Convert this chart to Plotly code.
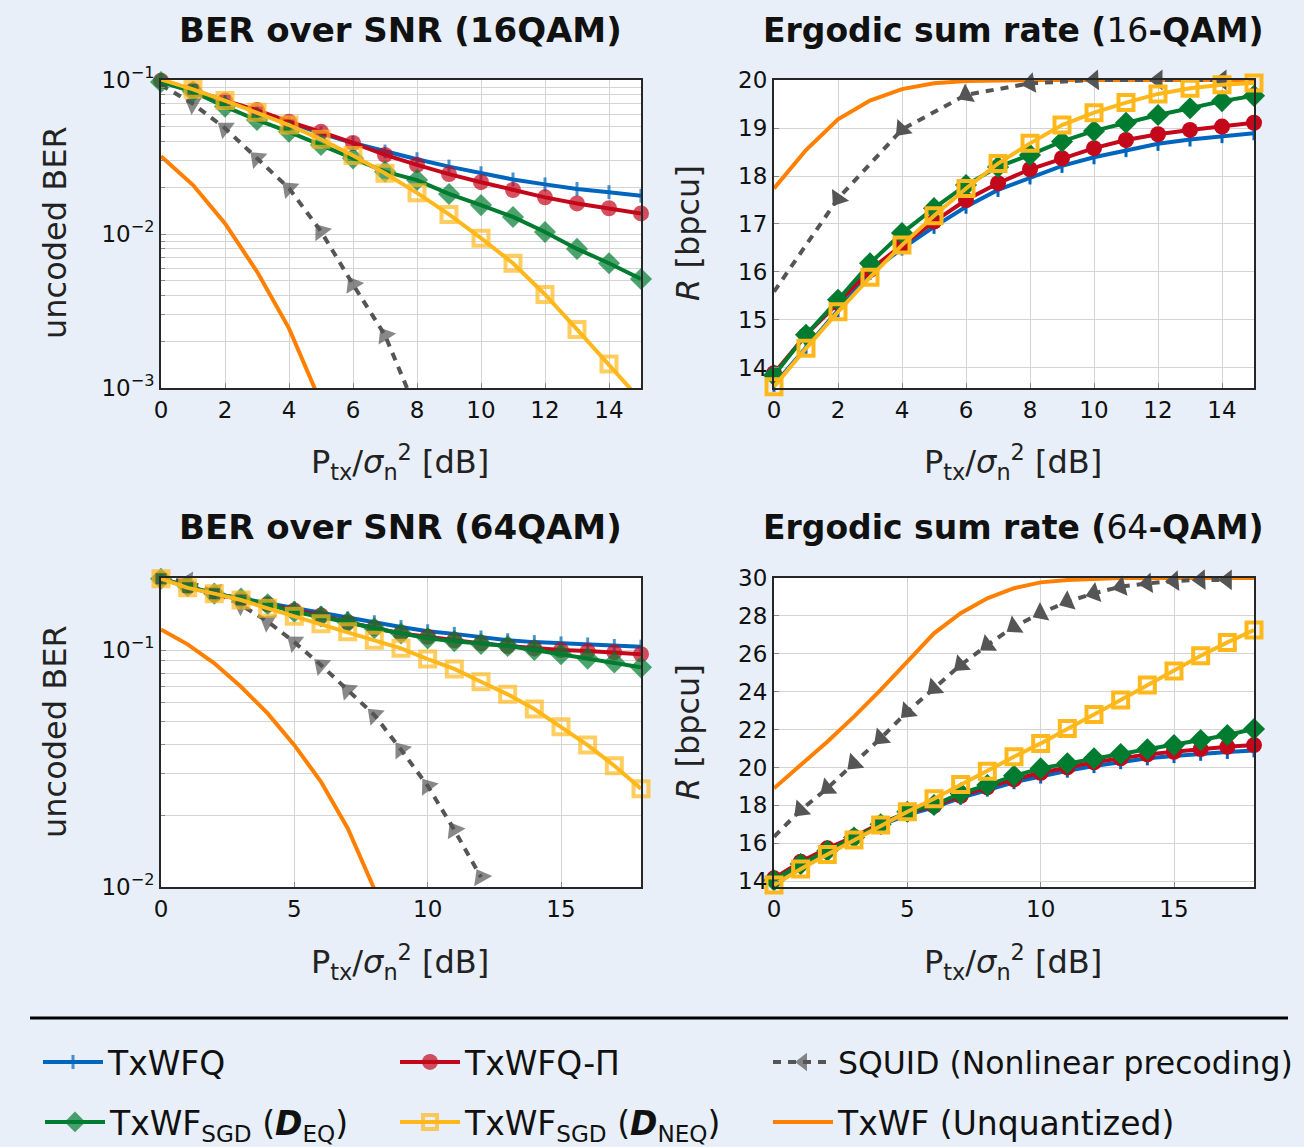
import plotly.graph_objects as go

# ---------------- data ----------------
snr16 = list(range(16))
snr16_squid_rate = list(range(0, 16, 2))
snr16_squid_ber = list(range(9))
snr16_txwf_ber = list(range(6))
snr64 = list(range(19))
snr64_squid_ber = list(range(13))
snr64_squid_rate = list(range(18))
snr64_txwf_ber = list(range(9))

ber16_txwfq = [0.099, 0.086, 0.0735, 0.0625, 0.0525, 0.045, 0.039, 0.0343, 0.0306, 0.0274, 0.0248, 0.0226, 0.0210, 0.0196, 0.0187, 0.0177]
ber16_txwfq_pi = [0.099, 0.086, 0.0735, 0.0638, 0.0536, 0.0461, 0.039, 0.0326, 0.0281, 0.0245, 0.0217, 0.0193, 0.0173, 0.0158, 0.0147, 0.0136]
ber16_sgd_eq = [0.097, 0.084, 0.0672, 0.055, 0.0461, 0.0379, 0.031, 0.0254, 0.0224, 0.0182, 0.0154, 0.0129, 0.0103, 0.0080, 0.00646, 0.0051]
ber16_sgd_neq = [0.101, 0.087, 0.0735, 0.0617, 0.051, 0.0412, 0.0323, 0.0248, 0.0185, 0.0134, 0.0094, 0.00646, 0.00405, 0.0024, 0.00143, 0.00083]
ber16_squid = [0.093, 0.070, 0.0486, 0.031, 0.0198, 0.0104, 0.0047, 0.0022, 0.0007]
ber16_txwf = [0.032, 0.0208, 0.0117, 0.0057, 0.00244, 0.0008]

rate16_txwfq = [13.65, 14.44, 15.2, 15.98, 16.49, 16.94, 17.36, 17.71, 17.97, 18.21, 18.39, 18.54, 18.67, 18.76, 18.83, 18.89]
rate16_txwfq_pi = [13.89, 14.69, 15.35, 16.04, 16.56, 17.05, 17.5, 17.85, 18.14, 18.37, 18.58, 18.75, 18.87, 18.96, 19.03, 19.11]
rate16_sgd_eq = [13.85, 14.69, 15.42, 16.18, 16.81, 17.33, 17.81, 18.19, 18.44, 18.72, 18.94, 19.11, 19.27, 19.41, 19.56, 19.67]
rate16_sgd_neq = [13.61, 14.41, 15.17, 15.89, 16.56, 17.17, 17.74, 18.26, 18.68, 19.06, 19.32, 19.53, 19.71, 19.83, 19.9, 19.94]
rate16_squid = [15.59, 17.53, 18.97, 19.69, 19.93, 20.0, 20.0, 20.0]
rate16_txwf = [17.74, 18.54, 19.18, 19.57, 19.81, 19.93, 19.98, 20.0, 20.0, 20.0, 20.0, 20.0, 20.0, 20.0, 20.0, 20.0]

ber64_txwfq = [0.201, 0.185, 0.173, 0.165, 0.157, 0.150, 0.143, 0.136, 0.131, 0.125, 0.120, 0.117, 0.113, 0.110, 0.108, 0.1067, 0.1056, 0.104, 0.1033]
ber64_txwfq_pi = [0.2, 0.185, 0.172, 0.164, 0.156, 0.147, 0.140, 0.131, 0.124, 0.1175, 0.1138, 0.110, 0.1067, 0.104, 0.1016, 0.1, 0.099, 0.0978, 0.096]
ber64_sgd_eq = [0.2, 0.186, 0.173, 0.165, 0.156, 0.145, 0.1385, 0.131, 0.1236, 0.1175, 0.112, 0.109, 0.106, 0.104, 0.1, 0.096, 0.092, 0.0887, 0.0845]
ber64_sgd_neq = [0.2, 0.183, 0.173, 0.1626, 0.15, 0.139, 0.129, 0.1195, 0.110, 0.1017, 0.0916, 0.0832, 0.0735, 0.065, 0.0564, 0.0475, 0.0397, 0.0325, 0.026]
ber64_squid = [0.2, 0.195, 0.176, 0.155, 0.132, 0.108, 0.0864, 0.0678, 0.0532, 0.0380, 0.0267, 0.0174, 0.011]
ber64_txwf = [0.122, 0.1057, 0.0879, 0.070, 0.054, 0.0397, 0.0278, 0.0177, 0.0098]

rate64_txwfq = [14.0, 14.85, 15.55, 16.25, 16.95, 17.5, 17.9, 18.4, 18.83, 19.22, 19.52, 19.83, 20.07, 20.28, 20.48, 20.6, 20.72, 20.82, 20.9]
rate64_txwfq_pi = [14.15, 15.02, 15.73, 16.34, 17.05, 17.6, 17.98, 18.5, 18.95, 19.37, 19.72, 20.0, 20.27, 20.48, 20.69, 20.83, 20.97, 21.09, 21.18]
rate64_sgd_eq = [14.05, 14.9, 15.6, 16.3, 17.0, 17.66, 18.02, 18.63, 19.07, 19.56, 19.95, 20.22, 20.48, 20.71, 20.96, 21.18, 21.45, 21.71, 22.03]
rate64_sgd_neq = [13.79, 14.64, 15.41, 16.17, 16.96, 17.66, 18.35, 19.1, 19.8, 20.56, 21.27, 22.06, 22.8, 23.56, 24.35, 25.09, 25.9, 26.6, 27.25]
rate64_squid = [16.34, 17.75, 18.9, 20.22, 21.54, 22.94, 24.18, 25.41, 26.46, 27.43, 28.14, 28.75, 29.19, 29.54, 29.72, 29.84, 29.9, 29.9]
rate64_txwf = [18.9, 20.13, 21.36, 22.68, 24.09, 25.58, 27.08, 28.14, 28.93, 29.46, 29.77, 29.89, 29.95, 30.0, 30.0, 30.0, 30.0, 30.0, 30.0]

names = {
    "q": "TxWFQ",
    "pi": "TxWFQ-Π",
    "squid": "SQUID (Nonlinear precoding)",
    "eq": "TxWF<sub>SGD</sub> (<b><i>D</i></b><sub>EQ</sub>)",
    "neq": "TxWF<sub>SGD</sub> (<b><i>D</i></b><sub>NEQ</sub>)",
    "txwf": "TxWF (Unquantized)",
}

# ---------------- styles ----------------
BLUE = "#0065BD"
RED = "#C4071B"
GREEN = "#007C30"
YELLOW = "#FFB81C"
ORANGE = "#FF8000"
GRAY = "#555555"
BG = "#E8EFF8"
FONT = "DejaVu Sans"
LW = 4

style = {
    "q": dict(line=dict(color=BLUE, width=LW),
              marker=dict(symbol="line-ns", size=10, color=BLUE, line=dict(color=BLUE, width=3))),
    "pi": dict(line=dict(color=RED, width=LW),
               marker=dict(symbol="circle", size=16, color=RED, line=dict(width=0))),
    "eq": dict(line=dict(color=GREEN, width=LW),
               marker=dict(symbol="diamond", size=17, color=GREEN, line=dict(width=0))),
    "neq": dict(line=dict(color=YELLOW, width=LW),
                marker=dict(symbol="square-open", size=15, color=YELLOW, line=dict(color=YELLOW, width=4))),
    "squid": dict(line=dict(color=GRAY, width=LW, dash="8px,7px"),
                  marker=dict(symbol="triangle-down", size=18, color=GRAY, angleref="previous", line=dict(width=0))),
    "txwf": dict(line=dict(color=ORANGE, width=LW)),
}
legend_of = {"q": "legend", "pi": "legend2", "squid": "legend3",
             "eq": "legend4", "neq": "legend5", "txwf": "legend6"}

fig = go.Figure()


def add(key, x, y, ax, lo=None, show=False):
    st = style[key]
    kw = dict(line=st["line"])
    if "marker" in st:
        m = dict(st["marker"])
        if lo is not None:
            m["size"] = [m["size"] if v >= lo else 0 for v in y]
        kw["marker"] = m
        kw["mode"] = "lines+markers"
    else:
        kw["mode"] = "lines"
    fig.add_trace(go.Scatter(x=x, y=y, name=names[key], xaxis="x" + ax, yaxis="y" + ax,
                             cliponaxis=False, showlegend=show, legend=legend_of[key], **kw))


# drawing order: orange, squid, blue, red, green, yellow
for ax, data in [
    ("", dict(txwf=(snr16_txwf_ber, ber16_txwf), squid=(snr16_squid_ber, ber16_squid),
              q=(snr16, ber16_txwfq), pi=(snr16, ber16_txwfq_pi), eq=(snr16, ber16_sgd_eq),
              neq=(snr16, ber16_sgd_neq))),
    ("2", dict(txwf=(snr16, rate16_txwf), squid=(snr16_squid_rate, rate16_squid),
               q=(snr16, rate16_txwfq), pi=(snr16, rate16_txwfq_pi), eq=(snr16, rate16_sgd_eq),
               neq=(snr16, rate16_sgd_neq))),
    ("3", dict(txwf=(snr64_txwf_ber, ber64_txwf), squid=(snr64_squid_ber, ber64_squid),
               q=(snr64, ber64_txwfq), pi=(snr64, ber64_txwfq_pi), eq=(snr64, ber64_sgd_eq),
               neq=(snr64, ber64_sgd_neq))),
    ("4", dict(txwf=(snr64, rate64_txwf), squid=(snr64_squid_rate, rate64_squid),
               q=(snr64, rate64_txwfq), pi=(snr64, rate64_txwfq_pi), eq=(snr64, rate64_sgd_eq),
               neq=(snr64, rate64_sgd_neq))),
]:
    lo = None
    if ax == "":
        lo = 1e-3
    elif ax == "3":
        lo = 1e-2
    for key in ["txwf", "squid", "q", "pi", "eq", "neq"]:
        x, y = data[key]
        add(key, x, y, ax, lo=lo, show=(ax == ""))

# ---------------- layout ----------------
W, H = 1304, 1147


def px(v):
    return v / W


def py(v):
    return 1 - v / H


GRID = "#D4D4D4"
AX = "#262626"
tickfont = dict(family=FONT, size=23, color="#111111")

common = dict(showline=True, linecolor=AX, linewidth=2, mirror=True, showgrid=True, gridcolor=GRID,
              gridwidth=1.3, ticks="inside", ticklen=5, tickcolor="#888888", tickfont=tickfont, zeroline=False)

minor16 = [m * 10 ** e for e in (-3, -2) for m in range(2, 10)]
minor64 = [m * 10 ** -2 for m in range(2, 10)] + [0.2]

leg_pos = {"legend": (38, 1034, 33), "legend2": (395, 1034, 33), "legend3": (768, 1035, 31.5),
           "legend4": (40, 1094, 33), "legend5": (395, 1094, 33), "legend6": (768, 1094, 33)}

layout = dict(
    width=W, height=H, margin=dict(l=0, r=0, t=0, b=0, autoexpand=False),
    paper_bgcolor=BG, plot_bgcolor="white",
    font=dict(family=FONT, color="#111111"),
    xaxis=dict(domain=[px(161), px(641)], anchor="y", range=[0, 15], tickvals=list(range(0, 15, 2)), **common),
    yaxis=dict(domain=[py(388), py(80)], anchor="x", type="log", range=[-3, -1],
               tickvals=[1e-3, 1e-2, 1e-1], ticktext=["10<sup>−3</sup>", "10<sup>−2</sup>", "10<sup>−1</sup>"],
               minor=dict(tickvals=minor16, showgrid=True, gridcolor=GRID, ticks="inside", ticklen=4, tickcolor="#888888"),
               **common),
    xaxis2=dict(domain=[px(774), px(1254)], anchor="y2", range=[0, 15], tickvals=list(range(0, 15, 2)), **common),
    yaxis2=dict(domain=[py(388), py(80)], anchor="x2", range=[13.583, 20], tickvals=list(range(14, 21)), **common),
    xaxis3=dict(domain=[px(161), px(641)], anchor="y3", range=[0, 18], tickvals=[0, 5, 10, 15], **common),
    yaxis3=dict(domain=[py(887), py(578)], anchor="x3", type="log", range=[-2, -0.696],
                tickvals=[1e-2, 1e-1], ticktext=["10<sup>−2</sup>", "10<sup>−1</sup>"],
                minor=dict(tickvals=minor64, showgrid=True, gridcolor=GRID, ticks="inside", ticklen=4, tickcolor="#888888"),
                **common),
    xaxis4=dict(domain=[px(774), px(1254)], anchor="y4", range=[0, 18], tickvals=[0, 5, 10, 15], **common),
    yaxis4=dict(domain=[py(887), py(578)], anchor="x4", range=[13.69, 30], tickvals=list(range(14, 31, 2)), **common),
    shapes=[dict(type="line", xref="paper", yref="paper", x0=px(30), x1=px(1288), y0=py(1018), y1=py(1018),
                 line=dict(color="black", width=3))],
)
for lg, (lx, ly, fs) in leg_pos.items():
    layout[lg] = dict(x=px(lx), y=py(ly), orientation="h", xanchor="left", yanchor="top", itemwidth=60,
                      bgcolor="rgba(0,0,0,0)", font=dict(family=FONT, size=fs, color="#111111"))
fig.update_layout(**layout)

title_font = dict(family=FONT, size=34, color="#111111")
title_font2 = dict(family=FONT, size=33, color="#111111")
label_font = dict(family=FONT, size=32, color="#222222")
xlabel = "P<sub>tx</sub>/<i>σ</i><sub>n</sub><sup>2</sup> [dB]"
ann = [
    dict(text="<b>BER over SNR (16QAM)</b>", x=px(400), y=py(30), font=title_font),
    dict(text="<b>Ergodic sum rate (</b>16<b>-QAM)</b>", x=px(1013), y=py(30), font=title_font2),
    dict(text="<b>BER over SNR (64QAM)</b>", x=px(400), y=py(527), font=title_font),
    dict(text="<b>Ergodic sum rate (</b>64<b>-QAM)</b>", x=px(1013), y=py(527), font=title_font2),
    dict(text=xlabel, x=px(400), y=py(462), font=label_font),
    dict(text=xlabel, x=px(1013), y=py(462), font=label_font),
    dict(text=xlabel, x=px(400), y=py(962), font=label_font),
    dict(text=xlabel, x=px(1013), y=py(962), font=label_font),
    dict(text="uncoded BER", x=px(55), y=py(233), font=label_font, textangle=-90),
    dict(text="uncoded BER", x=px(55), y=py(732), font=label_font, textangle=-90),
    dict(text="<i>R</i> [bpcu]", x=px(688), y=py(233), font=label_font, textangle=-90),
    dict(text="<i>R</i> [bpcu]", x=px(688), y=py(732), font=label_font, textangle=-90),
]
for a in ann:
    fig.add_annotation(xref="paper", yref="paper", showarrow=False, xanchor="center", yanchor="middle", **a)

fig.write_html("out.html", config={"displayModeBar": False},
               post_script="document.body.style.margin='0';")
